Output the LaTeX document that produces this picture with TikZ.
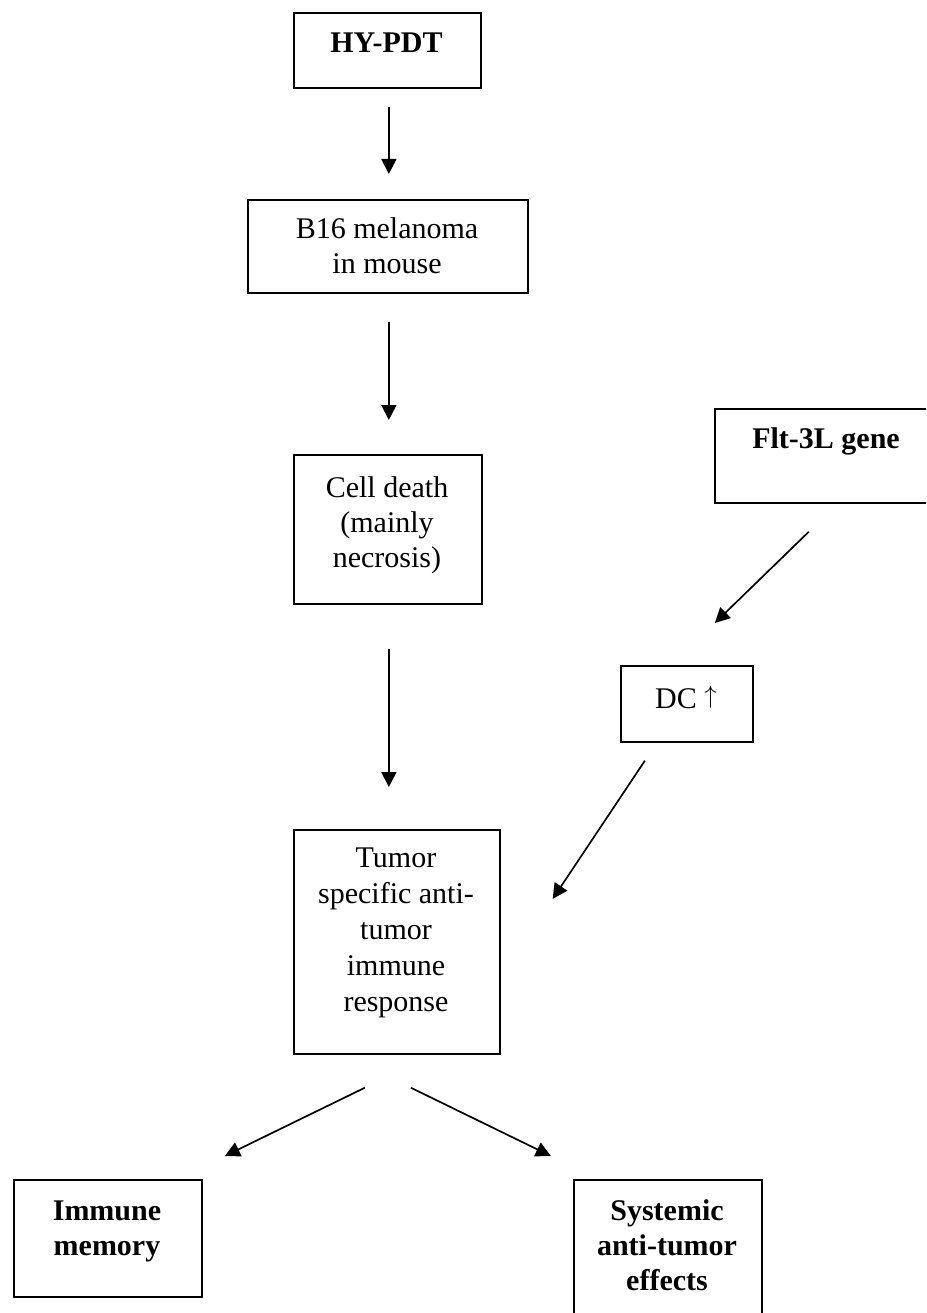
\documentclass[tikz,border=0pt]{standalone}
\usepackage{fontspec}
\setmainfont{Liberation Serif}
\usetikzlibrary{arrows.meta}
\newcommand{\fls}{\rule{0pt}{22pt}}
\begin{document}
\begin{tikzpicture}[x=1pt,y=-1pt,
  box/.style={draw, line width=1.7pt, inner sep=0pt, anchor=north west},
  txt/.style={anchor=north, inner sep=0pt, align=center, font=\fontsize{30}{35}\selectfont},
  bold/.style={txt, font=\fontsize{30}{35}\selectfont\bfseries},
  arr/.style={line width=1.7pt, -{Triangle[length=15pt,width=15pt]}}]
\clip (0,0) rectangle (926,1313);
% boxes
\node[box, minimum width=187pt, minimum height=75pt]  (hy)   at (293,12)   {};
\node[box, minimum width=280pt, minimum height=93pt]  (b16)  at (247,199)  {};
\node[box, minimum width=188pt, minimum height=149pt] (cell) at (293,454)  {};
\node[box, minimum width=206pt, minimum height=224pt] (tum)  at (293,829)  {};
\node[box, minimum width=224pt, minimum height=94pt]  (flt)  at (714,408)  {};
\node[box, minimum width=132pt, minimum height=76pt]  (dc)   at (620,665)  {};
\node[box, minimum width=188pt, minimum height=117pt] (imm)  at (13,1179)  {};
\node[box, minimum width=188pt, minimum height=160pt] (sys)  at (573,1179) {};
% texts
\node[bold] (hyt)   at (386.5,30) {\fls HY-PDT};
\node[txt]  (b16t)  at (387,216)  {\fls B16 melanoma\\in mouse};
\node[txt]  (cellt) at (387,475)  {\fls Cell death\\(mainly\\necrosis)};
\node[txt, font=\fontsize{30}{36}\selectfont] (tumt) at (396,845) {\fls Tumor\\specific anti-\\tumor\\immune\\response};
\node[bold] (fltt)  at (826,426)  {\fls Flt-3L gene};
\node[txt]  (dct)   at (686,686)  {\fls DC \raisebox{5pt}{$\uparrow$}};
\node[bold] (immt)  at (107,1198) {\fls Immune\\memory};
\node[bold] (syst)  at (667,1198) {\fls Systemic\\anti-tumor\\effects};
% connectors
\draw[arr] ([xshift=1.5pt,yshift=-18pt]hy.south) -- ([xshift=1pt,yshift=25pt]b16.north);
\draw[arr] ([xshift=1pt,yshift=-28pt]b16.south) -- ([xshift=1pt,yshift=34pt]cell.north);
\draw[arr] ([xshift=1pt,yshift=-44pt]cell.south) -- ([xshift=-8pt,yshift=42pt]tum.north);
\draw[arr] ([xshift=-18pt,yshift=-28pt]flt.south) -- ([xshift=28pt,yshift=42pt]dc.north);
\draw[arr] ([xshift=-42pt,yshift=-18pt]dc.south) -- ([xshift=52pt,yshift=43pt]tum.east);
\draw[arr] ([xshift=-32pt,yshift=-33pt]tum.south) -- ([xshift=117pt,yshift=23pt]imm.north);
\draw[arr] ([xshift=14pt,yshift=-33pt]tum.south) -- ([xshift=-117pt,yshift=23pt]sys.north);
\end{tikzpicture}
\end{document}
